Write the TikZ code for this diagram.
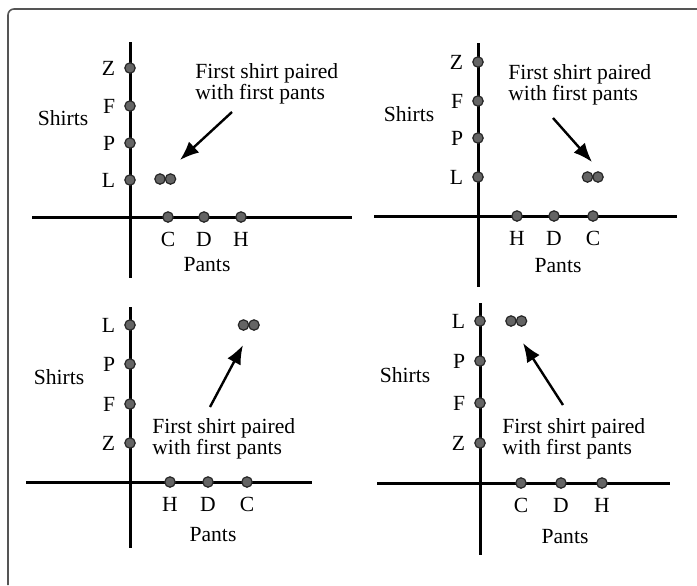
\documentclass[tikz,border=0pt]{standalone}
\usepackage{fontspec}
\setmainfont{Liberation Serif}
\definecolor{dotgray}{RGB}{100,100,100}
\definecolor{framegray}{RGB}{85,85,85}
\usetikzlibrary{arrows.meta,positioning}
\tikzset{
  axis/.style={line width=1.5pt},
  dot/.style={circle,draw=black!85,fill=dotgray,line width=0.6pt,inner sep=0pt,minimum size=5.2pt},
  lbl/.style={font=\fontsize{10.8}{12}\selectfont},
  note/.style={align=left,anchor=north west,inner sep=0pt,font=\fontsize{10.8}{10.8}\selectfont},
  pointer/.style={-{Latex[length=9.5pt,width=7.5pt]},line width=1.2pt}
}
\begin{document}
\begin{tikzpicture}[x=0.5pt,y=-0.5pt,every label/.style={lbl},label distance=1pt]
\useasboundingbox (0,0) rectangle (697,585);
\draw[framegray,line width=0.8pt,rounded corners=3pt] (697,9) -- (8,9) -- (8,585);
% top left
\coordinate (a1t) at (130,42); \coordinate (a1b) at (130,278);
\coordinate (a1l) at (32,217); \coordinate (a1r) at (352,217);
\draw[axis] (a1t) -- (a1b); \draw[axis] (a1l) -- (a1r);
\node[dot,label=left:Z] (s1z) at (130,68) {};
\node[dot,label=left:F] (s1f) at (130,106) {};
\node[dot,label=left:P] (s1p) at (130,143) {};
\node[dot,label=left:L] (s1l) at (130,180) {};
\node[dot,label=below:C] (t1c) at (168,217) {};
\node[dot,label=below:D] (t1d) at (204,217) {};
\node[dot,label=below:H] (t1h) at (241,217) {};
\node[dot] (q1a) at (160,179) {}; \node[dot] (q1b) at (170.5,179) {};
\node[lbl] (sh1) at (63,118) {Shirts};
\node[lbl] (pa1) at (207,265) {Pants};
\node[note] (n1) at (195,63) {First shirt paired\\with first pants};
\coordinate (r1s) at (232,112); \coordinate (r1e) at (180,160);
\draw[pointer] (r1s) -- (r1e);
% top right
\coordinate (a2t) at (478,43); \coordinate (a2b) at (478,287);
\coordinate (a2l) at (374,216); \coordinate (a2r) at (677,216);
\draw[axis] (a2t) -- (a2b); \draw[axis] (a2l) -- (a2r);
\node[dot,label=left:Z] (s2z) at (478,62) {};
\node[dot,label=left:F] (s2f) at (478,101) {};
\node[dot,label=left:P] (s2p) at (478,138) {};
\node[dot,label=left:L] (s2l) at (478,177) {};
\node[dot,label=below:H] (t2h) at (517,216) {};
\node[dot,label=below:D] (t2d) at (554,216) {};
\node[dot,label=below:C] (t2c) at (593,216) {};
\node[dot] (q2a) at (587.5,177) {}; \node[dot] (q2b) at (598,177) {};
\node[lbl] (sh2) at (409,114) {Shirts};
\node[lbl] (pa2) at (558,266) {Pants};
\node[note] (n2) at (508,64) {First shirt paired\\with first pants};
\coordinate (r2s) at (553,118); \coordinate (r2e) at (592,162);
\draw[pointer] (r2s) -- (r2e);
% bottom left
\coordinate (a3t) at (130,307); \coordinate (a3b) at (130,548);
\coordinate (a3l) at (26,482); \coordinate (a3r) at (312,482);
\draw[axis] (a3t) -- (a3b); \draw[axis] (a3l) -- (a3r);
\node[dot,label=left:L] (s3l) at (130,325) {};
\node[dot,label=left:P] (s3p) at (130,364) {};
\node[dot,label=left:F] (s3f) at (130,404) {};
\node[dot,label=left:Z] (s3z) at (130,443) {};
\node[dot,label=below:H] (t3h) at (170,482) {};
\node[dot,label=below:D] (t3d) at (208,482) {};
\node[dot,label=below:C] (t3c) at (247,482) {};
\node[dot] (q3a) at (243.5,325) {}; \node[dot] (q3b) at (254,325) {};
\node[lbl] (sh3) at (59,377) {Shirts};
\node[lbl] (pa3) at (213,535) {Pants};
\node[note] (n3) at (152,418) {First shirt paired\\with first pants};
\coordinate (r3s) at (210,407); \coordinate (r3e) at (243,345);
\draw[pointer] (r3s) -- (r3e);
% bottom right
\coordinate (a4t) at (480,303); \coordinate (a4b) at (480,555);
\coordinate (a4l) at (377,483); \coordinate (a4r) at (670,483);
\draw[axis] (a4t) -- (a4b); \draw[axis] (a4l) -- (a4r);
\node[dot,label=left:L] (s4l) at (480,321) {};
\node[dot,label=left:P] (s4p) at (480,361) {};
\node[dot,label=left:F] (s4f) at (480,403) {};
\node[dot,label=left:Z] (s4z) at (480,443) {};
\node[dot,label=below:C] (t4c) at (521,483) {};
\node[dot,label=below:D] (t4d) at (561,483) {};
\node[dot,label=below:H] (t4h) at (602,483) {};
\node[dot] (q4a) at (511,321) {}; \node[dot] (q4b) at (521.5,321) {};
\node[lbl] (sh4) at (405,375) {Shirts};
\node[lbl] (pa4) at (565,537) {Pants};
\node[note] (n4) at (502,418) {First shirt paired\\with first pants};
\coordinate (r4s) at (563,405); \coordinate (r4e) at (523,343);
\draw[pointer] (r4s) -- (r4e);
\end{tikzpicture}
\end{document}
